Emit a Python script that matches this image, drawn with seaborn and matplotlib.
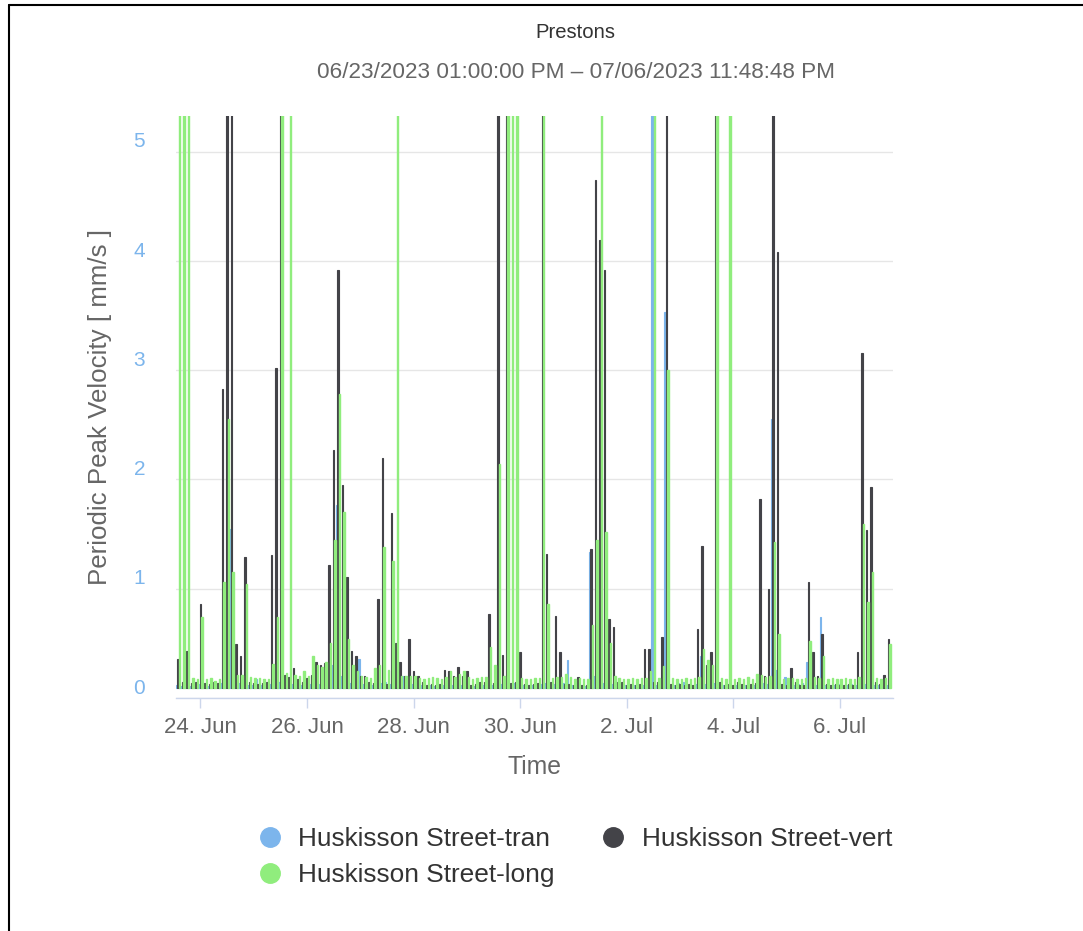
import numpy as np
import pandas as pd
import matplotlib
matplotlib.use("Agg")
import matplotlib.pyplot as plt
import matplotlib.transforms as mtransforms
from matplotlib.lines import Line2D
import seaborn as sns

# ---------------------------------------------------------------------------
# Data: periodic peak velocity [mm/s], one value per 2-hour interval.
# First interval is centred on 23 Jun 2023 14:00; rows below are one day each.
# ---------------------------------------------------------------------------
SERIES = ["Huskisson Street-tran", "Huskisson Street-vert", "Huskisson Street-long"]
COLORS = ["#7cb5ec", "#434348", "#90ed7d"]

tran = [
    0.03, 0.02, 0.02, 0.02, 0.03,                                         # 23 Jun
    0.04, 0.02, 0.02, 0.03, 0.02, 0.05, 0.10, 1.46, 0.08, 0.05, 0.04, 0.03,  # 24 Jun
    0.03, 0.08, 0.03, 0.02, 0.04, 0.05, 0.06, 0.05, 0.04, 0.04, 0.03, 0.03,  # 25 Jun
    0.04, 0.04, 0.05, 0.04, 0.05, 0.06, 0.21, 1.68, 0.11, 0.06, 0.05, 0.04,  # 26 Jun
    0.27, 0.04, 0.03, 0.03, 0.04, 0.05, 0.06, 0.04, 0.05, 0.04, 0.11, 0.04,  # 27 Jun
    0.04, 0.03, 0.03, 0.02, 0.03, 0.02, 0.03, 0.03, 0.04, 0.03, 0.04, 0.03,  # 28 Jun
    0.04, 0.03, 0.02, 0.03, 0.03, 0.04, 0.03, 0.05, 0.04, 0.05, 0.04, 0.05,  # 29 Jun
    0.04, 0.03, 0.03, 0.03, 0.03, 0.04, 0.05, 0.04, 0.04, 0.05, 0.05, 0.26,  # 30 Jun
    0.03, 0.03, 0.03, 0.02, 1.25, 0.11, 0.06, 0.05, 0.04, 0.04, 0.03, 0.03,  # 1 Jul
    0.03, 0.02, 0.03, 0.03, 0.03, 0.04, 8.70, 0.03, 0.04, 3.44, 0.03, 0.03,  # 2 Jul
    0.05, 0.06, 0.03, 0.03, 0.04, 0.29, 0.04, 0.04, 0.05, 0.03, 0.03, 0.03,  # 3 Jul
    0.02, 0.03, 0.03, 0.03, 0.03, 0.03, 0.04, 0.05, 0.04, 2.46, 0.17, 0.03,  # 4 Jul
    0.10, 0.03, 0.03, 0.04, 0.05, 0.24, 0.04, 0.03, 0.65, 0.03, 0.03, 0.03,  # 5 Jul
    0.04, 0.03, 0.03, 0.04, 0.03, 0.04, 0.04, 0.03, 0.03, 0.03, 0.03, 0.03,  # 6 Jul
]

vert = [
    0.27, 0.06, 0.34, 0.05, 0.06,
    0.77, 0.05, 0.04, 0.06, 0.05, 2.74, 9.80, 7.20, 0.40, 0.29, 1.20, 0.06,
    0.05, 0.04, 0.05, 0.06, 1.22, 2.93, 8.90, 0.12, 0.10, 0.18, 0.08, 0.06,
    0.09, 0.12, 0.24, 0.21, 0.23, 1.13, 2.18, 3.83, 1.86, 1.02, 0.34, 0.29,
    0.11, 0.11, 0.06, 0.05, 0.82, 2.11, 0.04, 1.60, 0.41, 0.24, 0.11, 0.45,
    0.16, 0.11, 0.06, 0.03, 0.04, 0.03, 0.04, 0.17, 0.16, 0.11, 0.19, 0.11,
    0.16, 0.03, 0.04, 0.06, 0.06, 0.68, 0.05, 8.40, 0.30, 9.10, 0.05, 0.06,
    0.33, 0.04, 0.03, 0.04, 0.05, 7.70, 1.23, 0.06, 0.66, 0.33, 0.04, 0.04,
    0.03, 0.10, 0.03, 0.03, 1.27, 4.65, 4.10, 3.83, 0.63, 0.56, 0.06, 0.06,
    0.03, 0.04, 0.03, 0.04, 0.36, 0.36, 0.06, 0.06, 0.47, 9.30, 0.04, 0.03,
    0.04, 0.03, 0.04, 0.03, 0.54, 1.30, 0.21, 0.33, 8.80, 0.06, 0.03, 0.04,
    0.03, 0.06, 0.04, 0.03, 0.04, 0.05, 1.73, 0.11, 0.91, 9.50, 3.99, 0.04,
    0.03, 0.18, 0.06, 0.03, 0.03, 0.97, 0.33, 0.11, 0.50, 0.04, 0.03, 0.04,
    0.03, 0.03, 0.04, 0.03, 0.33, 3.07, 1.45, 1.84, 0.06, 0.04, 0.12, 0.45,
]

long_ = [
    8.60, 11.2, 7.40, 0.09, 0.08,
    0.65, 0.08, 0.09, 0.07, 0.08, 0.97, 2.46, 1.06, 0.12, 0.12, 0.95, 0.10,
    0.09, 0.09, 0.08, 0.08, 0.22, 0.65, 6.70, 0.14, 10.3, 0.12, 0.11, 0.16,
    0.11, 0.29, 0.21, 0.19, 0.24, 0.41, 1.36, 2.69, 1.61, 0.45, 0.21, 0.16,
    0.11, 0.10, 0.09, 0.18, 0.21, 1.29, 0.17, 1.16, 7.90, 0.11, 0.11, 0.11,
    0.11, 0.09, 0.08, 0.09, 0.10, 0.09, 0.08, 0.10, 0.16, 0.10, 0.13, 0.16,
    0.10, 0.08, 0.09, 0.10, 0.10, 0.38, 0.21, 2.05, 0.11, 6.90, 11.6, 7.30,
    0.09, 0.08, 0.08, 0.09, 0.09, 8.20, 0.77, 0.09, 0.10, 0.10, 0.13, 0.10,
    0.08, 0.09, 0.08, 0.08, 0.58, 1.36, 9.60, 1.43, 0.41, 0.11, 0.09, 0.08,
    0.08, 0.09, 0.08, 0.09, 0.09, 0.16, 10.4, 0.09, 0.20, 2.91, 0.09, 0.08,
    0.08, 0.09, 0.08, 0.09, 0.10, 0.36, 0.26, 0.21, 12.4, 0.09, 0.08, 7.10,
    0.08, 0.09, 0.08, 0.10, 0.08, 0.13, 0.12, 0.10, 0.11, 1.34, 0.50, 0.08,
    0.09, 0.09, 0.08, 0.08, 0.09, 0.43, 0.10, 0.09, 0.29, 0.08, 0.09, 0.08,
    0.08, 0.09, 0.08, 0.08, 0.10, 1.50, 0.79, 1.06, 0.09, 0.08, 0.09, 0.40,
]

TICK_DAYS = ["2023-06-24", "2023-06-26", "2023-06-28", "2023-06-30",
             "2023-07-02", "2023-07-04", "2023-07-06"]
TICK_LABELS = ["24. Jun", "26. Jun", "28. Jun", "30. Jun", "2. Jul", "4. Jul", "6. Jul"]
Y_TICKS = [0, 1, 2, 3, 4, 5]

TITLE = "Prestons"
SUBTITLE = "06/23/2023 01:00:00 PM \u2013 07/06/2023 11:48:48 PM"

# ---------------------------------------------------------------------------
origin = pd.Timestamp("2023-06-23 00:00")
times = pd.date_range("2023-06-23 14:00", periods=len(tran), freq="2h")
hours = np.asarray((times - origin) / pd.Timedelta(hours=1), dtype=float)

df = pd.DataFrame({
    "hour": np.concatenate([hours, hours, hours]),
    "value": np.array(tran + vert + long_, dtype=float),
    "series": np.repeat(SERIES, len(tran)),
})

sns.set_theme(style="white")
plt.rcParams["font.family"] = ["Liberation Sans", "DejaVu Sans"]

W, H = 1083, 931
fig = plt.figure(figsize=(W / 100, H / 100), dpi=100)


def fx(px):
    return px / W


def fy(py):
    return 1 - py / H


ax = fig.add_axes([fx(176), fy(698), (893 - 176) / W, (698 - 115.6) / H])

BASE = 0.09  # columns sit just above the axis line
sns.barplot(data=df, x="hour", y="value", hue="series", hue_order=SERIES,
            palette=COLORS, native_scale=True, dodge=True, width=1.0,
            errorbar=None, saturation=1, legend=False, bottom=BASE, ax=ax)

# thin columns get a same-coloured outline so they stay visible;
# the long series is drawn last with a slightly wider outline
green = matplotlib.colors.to_rgba(COLORS[2])
for p in ax.patches:
    fc = p.get_facecolor()
    p.set_edgecolor(fc)
    is_green = np.allclose(fc, green, atol=0.01)
    p.set_linewidth(1.0 if is_green else 0.8)

ax.set_xlim(13, 336)
ax.set_ylim(0, 5.33)
ax.set_xlabel("")
ax.set_ylabel("")

tick_hours = (pd.to_datetime(TICK_DAYS) - origin) / pd.Timedelta(hours=1)
ax.set_xticks(np.asarray(tick_hours, dtype=float))
ax.set_xticklabels(TICK_LABELS)
ax.tick_params(axis="x", bottom=True, length=7.5, width=1, color="#ccd6eb",
               labelsize=16, labelcolor="#666666", pad=6)

ax.set_yticks(Y_TICKS)
ax.tick_params(axis="y", left=False, labelleft=False)
ax.grid(axis="y", color="#e6e6e6", linewidth=1.0)
ax.grid(axis="x", visible=False)
ax.set_axisbelow(True)

for side in ("left", "right", "top"):
    ax.spines[side].set_visible(False)
ax.spines["bottom"].set_color("#ccd6eb")
ax.spines["bottom"].set_linewidth(1.0)

# y tick labels, level with the column base
ylab_tf = mtransforms.blended_transform_factory(ax.transAxes, ax.transData)
for k in Y_TICKS:
    ax.text(-0.043, k + BASE, str(k), transform=ylab_tf, ha="right", va="center",
            fontsize=15, color="#7cb5ec")

fig.text(fx(100), fy(407), "Periodic Peak Velocity [ mm/s ]", rotation=90,
         ha="center", va="center", fontsize=18.6, color="#666666")
fig.text(fx(535), fy(767), "Time", ha="center", va="center",
         fontsize=17.8, color="#666666")

fig.text(fx(575), fy(33), TITLE, ha="center", va="center",
         fontsize=14.6, color="#333333")
fig.text(fx(576), fy(73), SUBTITLE, ha="center", va="center",
         fontsize=16.2, color="#666666")

# legend: tran | vert on the first row, long below tran
order = [0, 2, 1]
handles = [Line2D([], [], linestyle="", marker="o", markersize=14,
                  markerfacecolor=COLORS[i], markeredgecolor=COLORS[i],
                  label=SERIES[i]) for i in order]
fig.legend(handles=handles, loc="upper left", bbox_to_anchor=(fx(259), fy(827)),
           ncol=2, frameon=False, fontsize=18.9, handlelength=0.8,
           handletextpad=0.69, columnspacing=1.83, labelspacing=0.46,
           borderpad=0, borderaxespad=0, labelcolor="#333333")

# outer frame
fig.add_artist(Line2D([fx(9), fx(9)], [fy(931), fy(5)], transform=fig.transFigure,
                      color="black", linewidth=1.5))
fig.add_artist(Line2D([fx(9), fx(1083)], [fy(5), fy(5)], transform=fig.transFigure,
                      color="black", linewidth=1.5))

fig.savefig("out.png", dpi=100)
